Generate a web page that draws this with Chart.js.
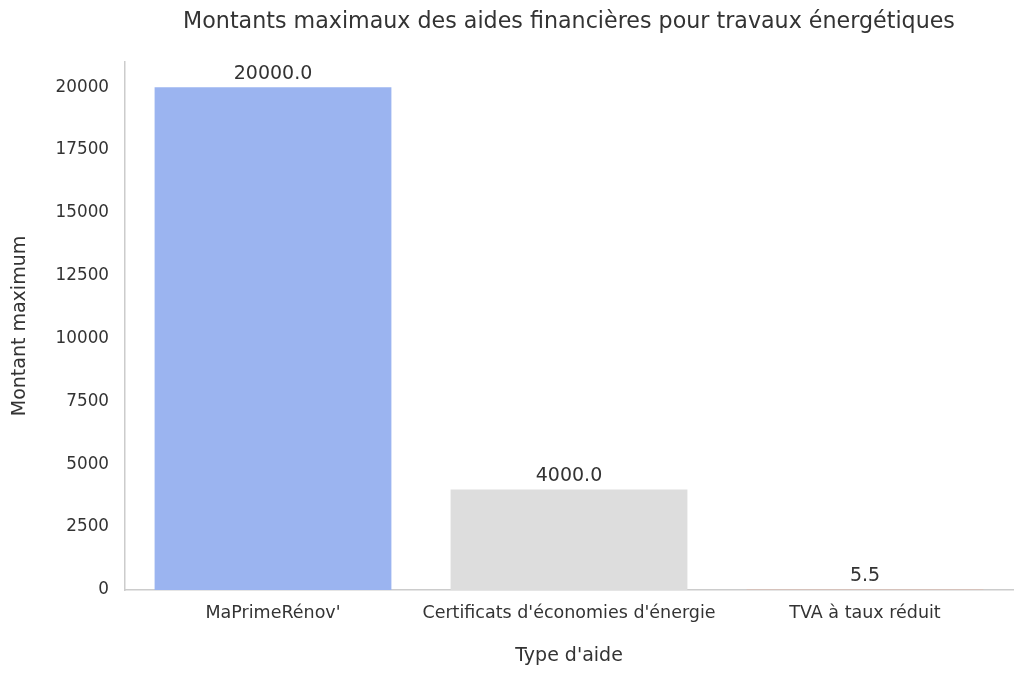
<!DOCTYPE html>
<html>
<head>
<meta charset="utf-8">
<script src="https://cdn.jsdelivr.net/npm/chart.js@4"></script>
<style>
html,body{margin:0;padding:0;background:#fff;}
#wrap{width:1024px;height:677px;}
</style>
</head>
<body>
<div id="wrap"><canvas id="c" width="1024" height="677"></canvas></div>
<script>
const categories = ["MaPrimeRénov'", "Certificats d'économies d'énergie", "TVA à taux réduit"];
const values = [20000, 4000, 5.5];
const barColors = ["#9bb4f0", "#dddddd", "#f4a486"];
const yTicks = [0, 2500, 5000, 7500, 10000, 12500, 15000, 17500, 20000];
const titleText = "Montants maximaux des aides financières pour travaux énergétiques";
const xTitle = "Type d'aide";
const yTitle = "Montant maximum";

const FONT = "'DejaVu Sans', sans-serif";
const TXT = "#333333";

const valueLabels = {
  id: 'valueLabels',
  afterLayout(chart) {
    if (chart.titleBlock) {
      chart.titleBlock.left = chart.chartArea.left;
      chart.titleBlock.right = chart.chartArea.right;
    }
  },
  afterDatasetsDraw(chart) {
    const ctx = chart.ctx;
    const meta = chart.getDatasetMeta(0);
    ctx.save();
    ctx.font = "19px " + FONT;
    ctx.fillStyle = TXT;
    ctx.textAlign = 'center';
    ctx.textBaseline = 'bottom';
    meta.data.forEach((bar, i) => {
      ctx.fillText(values[i].toFixed(1), bar.x, bar.y - 4);
    });
    ctx.restore();
  }
};

new Chart(document.getElementById('c'), {
  type: 'bar',
  data: {
    labels: categories,
    datasets: [{
      data: values,
      backgroundColor: barColors,
      borderWidth: 0,
      barPercentage: 0.8,
      categoryPercentage: 1.0
    }]
  },
  options: {
    responsive: false,
    animation: false,
    devicePixelRatio: 1,
    layout: { padding: { left: 0, right: 11, top: 0, bottom: 0 } },
    plugins: {
      legend: { display: false },
      tooltip: { enabled: false },
      title: {
        display: true,
        text: titleText,
        color: TXT,
        font: { family: FONT, size: 22.2, weight: 'normal' },
        padding: { top: 9, bottom: 26.4 }
      }
    },
    scales: {
      x: {
        grid: { display: false },
        border: { display: true, color: '#cccccc', width: 1.5 },
        ticks: { color: TXT, font: { family: FONT, size: 17.5 }, padding: 5, maxRotation: 0, autoSkip: false },
        title: { display: true, text: xTitle, color: TXT, font: { family: FONT, size: 19 }, padding: { top: 14, bottom: 10 } },
        afterFit(scale) { scale.height = 87; }
      },
      y: {
        min: 0,
        max: 21000,
        grid: { display: false },
        border: { display: true, color: '#cccccc', width: 1.5 },
        ticks: { color: TXT, font: { family: FONT, size: 16.8 }, padding: 8, callback: v => String(v) },
        afterBuildTicks(scale) { scale.ticks = yTicks.map(v => ({ value: v })); },
        title: { display: true, text: yTitle, color: TXT, font: { family: FONT, size: 19 }, padding: { top: 9, bottom: 10 } },
        afterFit(scale) { scale.width = 125; }
      }
    }
  },
  plugins: [valueLabels]
});
</script>
</body>
</html>
